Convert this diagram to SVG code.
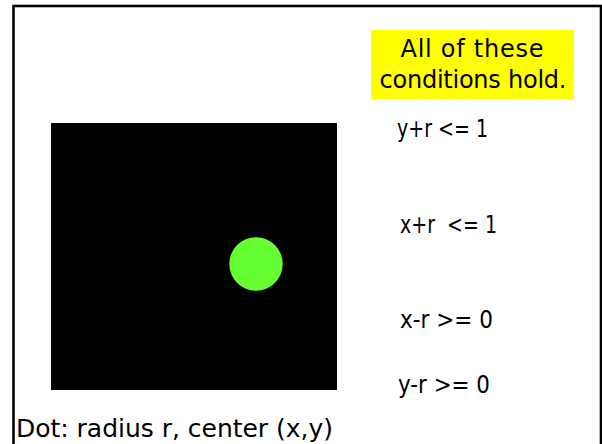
<svg xmlns="http://www.w3.org/2000/svg" width="602" height="444" viewBox="0 0 602 444">
<style>
text{font-family:"DejaVu Sans","Noto Sans",sans-serif;fill:#000;white-space:pre}
.c{font-size:24px}
</style>
<rect x="0" y="0" width="602" height="444" fill="#fff"/>
<rect id="frame" x="13.5" y="6" width="587.5" height="460" fill="none" stroke="#000" stroke-width="2.6"/>
<g id="square">
<rect x="51" y="123" width="286" height="267" fill="#000"/>
<circle cx="256" cy="264" r="26.7" fill="#66FF33"/>
</g>
<g id="note">
<rect x="371" y="30" width="203" height="69" fill="#FFFF00"/>
<text x="472" y="57" font-size="24" text-anchor="middle" textLength="143">All of these</text>
<text x="473" y="88" font-size="24" text-anchor="middle" textLength="187">conditions hold.</text>
</g>
<g id="conditions">
<text class="c" x="397" y="137" textLength="91" lengthAdjust="spacingAndGlyphs">y+r &lt;= 1</text>
<text class="c" x="400" y="233" textLength="97" lengthAdjust="spacingAndGlyphs">x+r  &lt;= 1</text>
<text class="c" x="400" y="328" textLength="93" lengthAdjust="spacingAndGlyphs">x-r &gt;= 0</text>
<text class="c" x="398" y="393" textLength="92" lengthAdjust="spacingAndGlyphs">y-r &gt;= 0</text>
</g>
<text id="caption" x="16" y="437" font-size="25" textLength="317">Dot: radius r, center (x,y)</text>
</svg>
